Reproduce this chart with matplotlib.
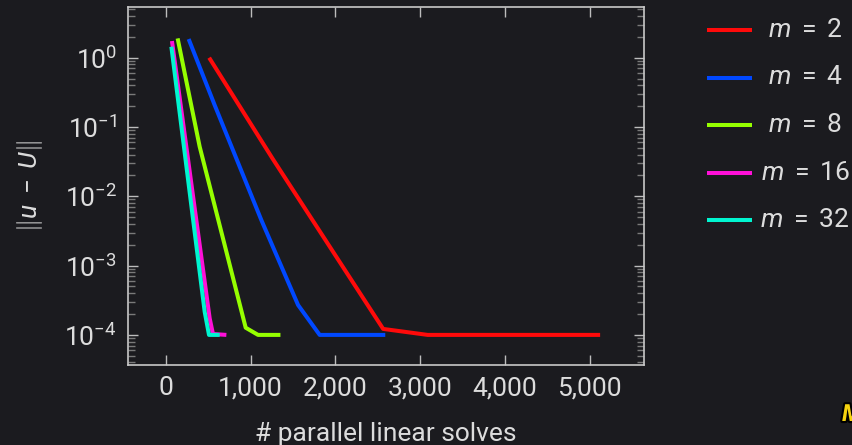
import matplotlib
matplotlib.use("Agg")
import matplotlib.pyplot as plt
from matplotlib.lines import Line2D
from matplotlib.ticker import FuncFormatter, LogLocator
import matplotlib.patheffects as pe

# Convergence of ||u - U|| versus number of parallel linear solves
m_values = [2, 4, 8, 16, 32]

solves_m2 = [512, 1260, 2565, 3090, 5125]
error_m2 = [1.0, 3.5e-2, 1.22e-4, 1.0e-4, 1.0e-4]

solves_m4 = [270, 577, 1129, 1561, 1816, 2590]
error_m4 = [1.86, 0.207, 4.5e-3, 2.7e-4, 1.0e-4, 1.0e-4]

solves_m8 = [140, 400, 943, 1089, 1353]
error_m8 = [1.9, 5.2e-2, 1.27e-4, 1.0e-4, 1.0e-4]

solves_m16 = [73, 518, 557, 715]
error_m16 = [1.74, 1.74e-4, 1.03e-4, 1.0e-4]

solves_m32 = [66, 459, 510, 636]
error_m32 = [1.44, 2.16e-4, 1.0e-4, 1.0e-4]

series = [
    (solves_m2, error_m2),
    (solves_m4, error_m4),
    (solves_m8, error_m8),
    (solves_m16, error_m16),
    (solves_m32, error_m32),
]
colors = ["#ff0a0a", "#0048ff", "#96ff00", "#ff10d8", "#00f5d0"]

bg = "#1b1b1f"
fg = "#dcdcdc"
fs = 19

plt.rcParams["font.family"] = ["Roboto", "DejaVu Sans"]
plt.rcParams["mathtext.fontset"] = "custom"
plt.rcParams["mathtext.rm"] = "Roboto"
plt.rcParams["mathtext.it"] = "Roboto:italic"
plt.rcParams["mathtext.bf"] = "Roboto:bold"
plt.rcParams["mathtext.fallback"] = "cm"

fig = plt.figure(figsize=(8.52, 4.45), dpi=100, facecolor=bg)
ax = fig.add_axes([0.1502, 0.1798, 0.6056, 0.8038], facecolor=bg)

for (xs, ys), c in zip(series, colors):
    ax.plot(xs, ys, color=c, lw=2.9, solid_joinstyle="round",
            solid_capstyle="butt")

ax.set_yscale("log")
ax.set_xlim(-446, 5642)
ax.set_ylim(3.68e-5, 5.34)

ax.set_xticks([0, 1000, 2000, 3000, 4000, 5000])
ax.xaxis.set_major_formatter(FuncFormatter(lambda v, p: f"{v:,.0f}"))
ax.yaxis.set_major_locator(LogLocator(base=10, numticks=20))
ax.yaxis.set_minor_locator(LogLocator(base=10, subs=range(2, 10), numticks=20))
ax.set_yticks([1e-4, 1e-3, 1e-2, 1e-1, 1e0])

for s in ax.spines.values():
    s.set_color("#c8c8c8")
    s.set_linewidth(1.2)

ax.tick_params(axis="both", which="major", direction="in", length=7,
               width=1.0, color="#bdbdbd", labelsize=fs, labelcolor=fg,
               top=True, right=True, pad=8)
ax.tick_params(axis="y", which="minor", direction="in", length=5,
               width=1.0, color="#7a7a7a", left=True, right=True)
ax.tick_params(axis="x", which="minor", bottom=False, top=False)

ax.set_xlabel("# parallel linear solves", fontsize=fs, color=fg, labelpad=16)
ax.set_ylabel(r"$\|u\;-\;U\|$", fontsize=fs, color=fg, labelpad=14)

# legend drawn to the right of the axes
y0 = 1 - 30 / 445
dy = 47.5 / 445
for i, (m, c) in enumerate(zip(m_values, colors)):
    yy = y0 - i * dy
    fig.add_artist(Line2D([706.7 / 852, 751.7 / 852], [yy, yy],
                          transform=fig.transFigure, color=c, lw=2.9,
                          solid_capstyle="butt"))
    fig.text(805 / 852, yy, rf"$m\;=\;{m}$", fontsize=fs, color=fg,
             ha="center", va="center")

fig.text(842 / 852, 1 - 421 / 445, "M", fontsize=17, color="#f5d20f",
         fontweight="bold", style="italic", ha="left", va="baseline",
         path_effects=[pe.withStroke(linewidth=3, foreground="black")])

fig.savefig("out.png", dpi=100, facecolor=bg)
